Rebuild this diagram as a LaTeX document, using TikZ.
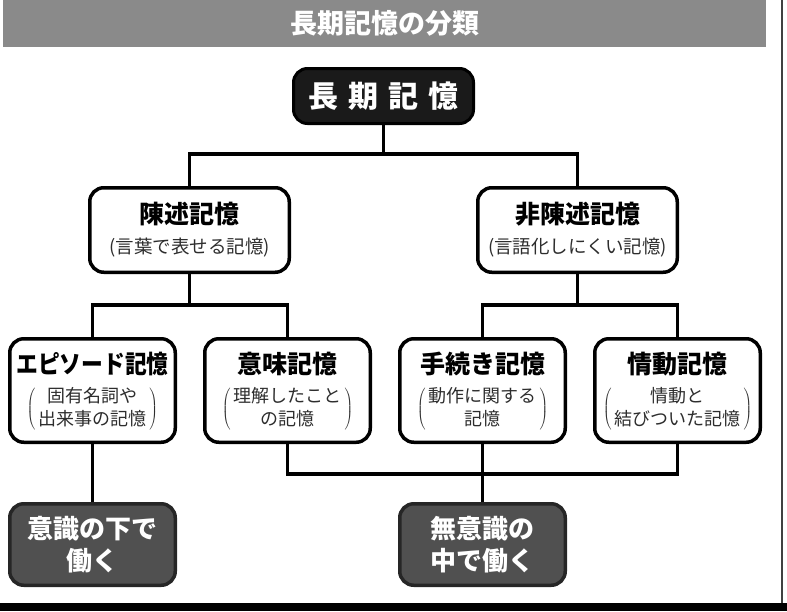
\documentclass[tikz,border=0pt]{standalone}
\usepackage{fontspec}
\usepackage{graphicx}
\setmainfont{Noto Sans CJK JP}
\usetikzlibrary{positioning}
\definecolor{titlegray}{RGB}{138,138,138}
\definecolor{rootblack}{RGB}{26,26,26}
\definecolor{resultgray}{RGB}{80,80,80}
\definecolor{subgray}{RGB}{45,45,45}
\newcommand{\subtext}{\fontsize{18.5}{22}\selectfont\mdseries\color{subgray}}
\newcommand{\headline}[1]{\rule{0pt}{25pt}#1}
\newcommand{\bracketed}[1]{{\fontsize{18}{23}\selectfont\mdseries\color{subgray}$\left(\hspace{3pt}\vcenter{\hbox{\begin{tabular}{@{}c@{}}#1\end{tabular}}}\hspace{3pt}\right)$}}

\begin{document}
\begin{tikzpicture}[
    x=1pt, y=-1pt,
    node distance=26pt,
    every node/.style={align=center},
    titlebar/.style={fill=titlegray, text=white, minimum width=763pt, minimum height=47pt, font=\fontsize{27}{30}\selectfont\bfseries},
    rootbox/.style={draw=black, fill=rootblack, text=white, line width=3pt, rounded corners=14pt, minimum width=180pt, minimum height=55pt, font=\fontsize{30}{36}\selectfont\bfseries},
    topbox/.style={draw=black, fill=white, line width=3.5pt, rounded corners=14pt, minimum width=199.5pt, minimum height=84.5pt, inner sep=2pt, font=\fontsize{25}{30}\selectfont\bfseries},
    leafbox/.style={draw=black, fill=white, line width=3.5pt, rounded corners=14pt, minimum width=165.5pt, minimum height=103.5pt, inner sep=0pt, font=\fontsize{25}{30}\selectfont\bfseries},
    resultbox/.style={draw=black!85, fill=resultgray, text=white, line width=3.5pt, rounded corners=14pt, minimum width=165.5pt, minimum height=81.5pt, inner sep=2pt, font=\fontsize{26}{32}\selectfont\bfseries},
    link/.style={line width=3.5pt, black}
]
    \useasboundingbox (0,0) rectangle (787,611);
    % Frame
    \node[titlebar] (title) at (384.5,23.5) {長期記憶の分類};
    \draw[line width=2pt, black!75] (782,0) -- (782,603);
    \fill[black] (0,603) rectangle (787,611);

    % Central node
    \node[rootbox] (root) at (383.5,96) {長\hspace{10pt}期\hspace{10pt}記\hspace{10pt}憶};

    % Two main branches
    \node[topbox, below=61pt of root, xshift=-194pt] (decl) {陳述記憶\\{\subtext (言葉で表せる記憶)}};
    \node[topbox, below=61pt of root, xshift=194pt] (nondecl) {非陳述記憶\\{\subtext (言語化しにくい記憶)}};

    % Four kinds of memory
    \node[leafbox, below=63pt of decl, xshift=-97pt] (episode) {\headline{\scalebox{0.87}[1]{エピソード記憶}}\\[10.5pt]\bracketed{固有名詞や\\出来事の記憶}};
    \node[leafbox, right=of episode] (semantic) {\headline{意味記憶}\\[10.5pt]\bracketed{理解したこと\\の記憶}};
    \node[leafbox, right=of semantic] (procedural) {\headline{手続き記憶}\\[10.5pt]\bracketed{動作に関する\\記憶}};
    \node[leafbox, right=of procedural] (emotional) {\headline{情動記憶}\\[10.5pt]\bracketed{情動と\\結びついた記憶}};

    % Where they work
    \node[resultbox, below=58pt of episode] (conscious) {意識の下で\\働く};
    \node[resultbox, below=58pt of procedural] (unconscious) {無意識の\\中で働く};

    % Connectors
    \draw[link] (root.south) -- ++(0,29) coordinate (rootfork) -| (decl.north);
    \draw[link] (rootfork) -| (nondecl.north);
    \draw[link] (decl.south) -- ++(0,31) coordinate (declfork) -| (episode.north);
    \draw[link] (declfork) -| (semantic.north);
    \draw[link] (nondecl.south) -- ++(0,31) coordinate (nondeclfork) -| (procedural.north);
    \draw[link] (nondeclfork) -| (emotional.north);
    \draw[link] (episode.south) -- (conscious.north);
    \draw[link] (semantic.south) -- ++(0,30) -| (emotional.south);
    \draw[link] (procedural.south) -- (unconscious.north);
\end{tikzpicture}
\end{document}
